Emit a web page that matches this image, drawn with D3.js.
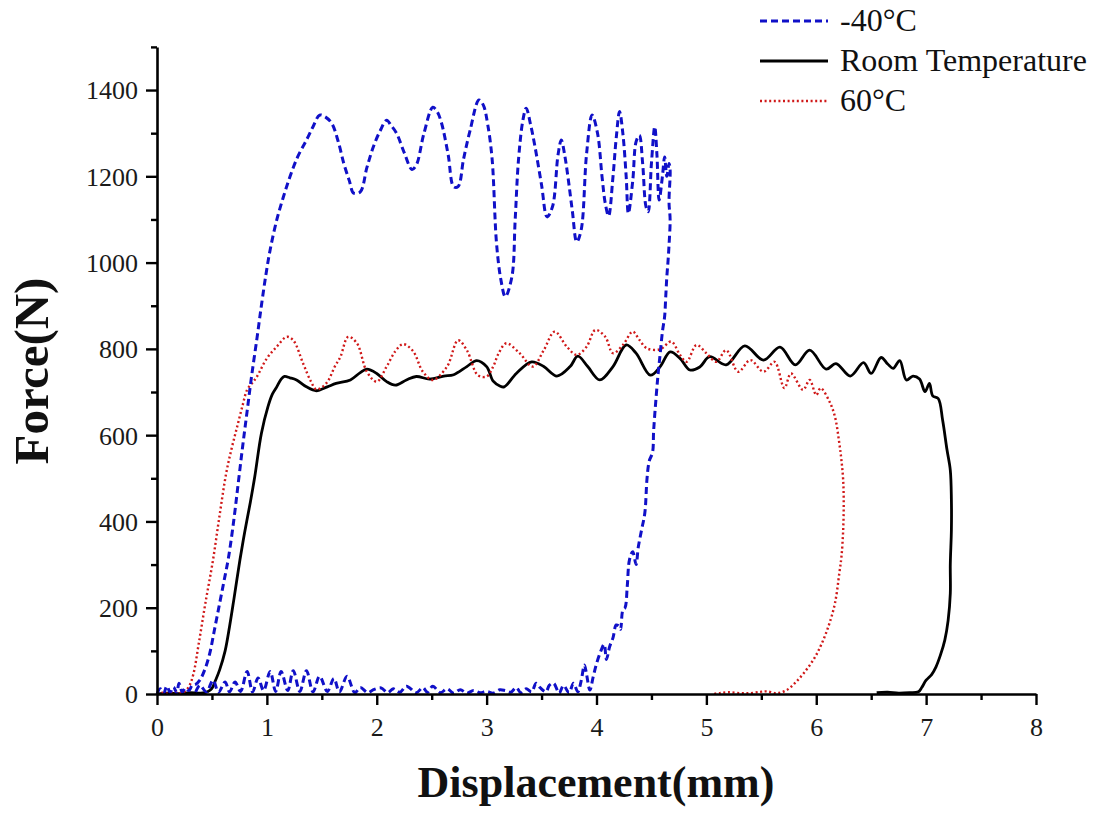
<!DOCTYPE html>
<html>
<head>
<meta charset="utf-8">
<script src="https://cdn.jsdelivr.net/npm/d3@7"></script>
<style>
  body { margin: 0; background: #fff; }
  svg { display: block; font-family: "Liberation Serif", "Times New Roman", serif; }
</style>
</head>
<body>
<svg id="chart" width="1098" height="813"></svg>
<script>
// Data: [displacement mm, force N]
const coldData = [
  [0.00,0],[0.03,12],[0.06,2],[0.09,18],[0.12,4],[0.15,16],[0.18,3],[0.20,25],[0.23,5],[0.26,14],[0.29,8],[0.32,20],[0.35,22],
  [0.39,32],[0.44,60],[0.48,94],[0.52,145],[0.57,210],[0.61,262],[0.65,315],[0.70,405],[0.74,490],[0.78,575],[0.82,655],
  [0.86,735],[0.91,825],[0.95,900],[0.99,970],[1.03,1030],[1.09,1099],[1.15,1152],[1.21,1199],[1.28,1245],[1.36,1284],
  [1.42,1315],[1.48,1342],[1.53,1338],[1.59,1323],[1.65,1280],[1.70,1230],[1.75,1190],[1.79,1161],[1.85,1164],[1.91,1220],
  [1.97,1269],[2.03,1305],[2.09,1330],[2.13,1318],[2.18,1300],[2.25,1255],[2.32,1216],[2.36,1226],[2.43,1300],[2.51,1360],
  [2.55,1350],[2.59,1323],[2.65,1250],[2.70,1176],[2.74,1176],[2.79,1240],[2.85,1307],[2.93,1377],[2.97,1365],[3.01,1320],
  [3.05,1240],[3.09,1045],[3.13,960],[3.17,921],[3.23,967],[3.26,1100],[3.29,1238],[3.33,1330],[3.36,1358],[3.40,1320],
  [3.44,1269],[3.50,1180],[3.55,1106],[3.60,1130],[3.65,1250],[3.68,1284],[3.71,1250],[3.74,1199],[3.78,1120],[3.82,1048],
  [3.86,1075],[3.91,1253],[3.96,1342],[4.01,1299],[4.05,1200],[4.08,1137],[4.11,1108],[4.15,1199],[4.18,1290],[4.21,1350],
  [4.24,1299],[4.27,1200],[4.29,1114],[4.33,1190],[4.36,1280],[4.39,1295],[4.42,1230],[4.45,1130],[4.47,1118],[4.50,1230],
  [4.53,1315],[4.55,1250],[4.57,1145],[4.60,1200],[4.62,1245],[4.64,1200],[4.66,1230],[4.67,1215],[4.66,1140],[4.67,1100],
  [4.66,1040],[4.65,1000],[4.64,967],[4.63,920],[4.62,875],
  [4.60,840],[4.58,790],[4.56,740],[4.54,680],[4.52,610],[4.51,560],[4.48,540],[4.46,500],[4.44,420],[4.41,380],[4.38,340],
  [4.36,300],[4.33,330],[4.30,311],[4.28,250],[4.26,200],[4.24,195],[4.22,150],[4.21,156],[4.18,160],[4.15,130],[4.12,110],
  [4.09,80],[4.07,115],[4.04,100],[4.00,70],[3.97,40],[3.94,9],[3.91,45],[3.89,67],[3.86,30],[3.83,5],
  [3.79,25],[3.75,3],[3.70,20],[3.66,2],[3.61,25],[3.57,20],[3.54,5],[3.49,14],[3.45,25],[3.41,5],[3.36,12],[3.31,3],
  [3.27,15],[3.22,4],[3.17,8],[3.12,10],[3.06,2],[3.00,6],[2.94,3],[2.88,8],[2.82,2],[2.76,10],[2.70,2],[2.64,12],[2.58,3],
  [2.51,18],[2.46,4],[2.42,15],[2.36,3],[2.27,18],[2.21,4],[2.15,12],[2.10,3],[2.04,14],[1.97,10],[1.92,3],[1.85,15],
  [1.80,3],[1.73,41],[1.66,5],[1.61,36],[1.55,6],[1.48,41],[1.42,5],[1.36,54],[1.30,6],[1.24,54],[1.19,8],[1.13,52],
  [1.08,6],[1.03,52],[0.97,8],[0.92,37],[0.87,5],[0.82,52],[0.76,6],[0.71,28],[0.66,5],[0.62,28],[0.56,4],[0.51,32],
  [0.45,5],[0.39,20],[0.35,3]
];

const roomData = [
  [0,0],[0.1,2],[0.2,1],[0.3,3],[0.4,2],[0.46,5],[0.50,13],[0.53,30],[0.57,56],[0.62,100],[0.66,156],[0.70,220],
  [0.755,311],[0.80,378],[0.85,445],[0.89,504],[0.95,604],[1.01,666],[1.05,695],[1.09,712],[1.13,730],[1.16,736],
  [1.21,733],[1.27,728],[1.36,712],[1.45,703],[1.55,712],[1.63,720],[1.76,728],[1.85,745],[1.91,753],[2.0,743],
  [2.09,724],[2.17,716],[2.27,728],[2.36,736],[2.48,730],[2.61,737],[2.70,740],[2.82,759],[2.91,773],[3.0,759],
  [3.06,725],[3.12,714],[3.16,712],[3.27,743],[3.41,770],[3.52,759],[3.64,737],[3.76,759],[3.83,783],[3.92,759],
  [4.03,728],[4.15,759],[4.27,809],[4.36,790],[4.49,739],[4.58,759],[4.67,793],[4.76,778],[4.85,751],[4.94,758],
  [5.03,782],[5.18,763],[5.35,807],[5.52,774],[5.67,804],[5.81,763],[5.94,797],[6.09,753],[6.18,766],[6.31,737],
  [6.43,768],[6.50,743],[6.59,780],[6.65,765],[6.70,755],[6.76,773],[6.82,728],[6.88,737],[6.94,730],[6.99,701],
  [7.03,720],[7.06,691],[7.11,685],[7.15,635],[7.19,566],[7.22,519],[7.23,450],[7.23,380],[7.22,300],[7.22,233],
  [7.20,170],[7.17,125],[7.13,90],[7.09,63],[7.05,45],[7.00,32],[6.96,15],[6.93,5],[6.85,3],[6.75,2],[6.65,4],[6.55,3]
];

const hotData = [
  [0,0],[0.05,3],[0.1,1],[0.15,5],[0.2,2],[0.25,6],[0.29,17],[0.33,45],[0.38,117],[0.44,210],[0.51,311],[0.57,415],
  [0.63,512],[0.68,570],[0.73,620],[0.78,670],[0.82,705],[0.87,722],[0.91,736],[1.0,778],[1.09,805],[1.18,828],
  [1.24,820],[1.33,766],[1.40,725],[1.45,706],[1.54,720],[1.62,760],[1.67,782],[1.74,828],[1.82,813],[1.91,747],
  [2.0,724],[2.09,759],[2.17,795],[2.24,811],[2.33,795],[2.42,747],[2.51,728],[2.64,759],[2.74,820],[2.82,797],
  [2.92,739],[3.0,736],[3.06,759],[3.11,790],[3.18,813],[3.30,790],[3.42,759],[3.52,797],[3.62,840],[3.73,805],
  [3.82,786],[3.91,805],[3.99,844],[4.08,828],[4.15,790],[4.24,809],[4.33,840],[4.39,821],[4.46,801],[4.58,799],
  [4.68,817],[4.76,786],[4.82,770],[4.91,809],[5.0,790],[5.09,770],[5.18,797],[5.29,747],[5.40,774],[5.52,747],
  [5.62,770],[5.71,709],[5.77,743],[5.88,705],[5.94,728],[6.00,693],[6.04,709],[6.12,678],[6.17,643],[6.21,581],
  [6.23,540],[6.245,496],[6.25,440],[6.245,380],[6.23,320],[6.21,280],[6.17,210],[6.11,156],[6.05,117],[5.99,86],
  [5.91,56],[5.82,29],[5.73,9],[5.64,2],[5.55,6],[5.49,5],[5.40,2],[5.31,2],[5.20,4],[5.12,2],[5.06,0]
];

const seriesNames = ["-40\u00B0C", "Room Temperature", "60\u00B0C"];
const xTicks = [0, 1, 2, 3, 4, 5, 6, 7, 8];
const xMinorTicks = [0.5, 1.5, 2.5, 3.5, 4.5, 5.5, 6.5, 7.5];
const yTicks = [0, 200, 400, 600, 800, 1000, 1200, 1400];
const yMinorTicks = [100, 300, 500, 700, 900, 1100, 1300, 1500];

const svg = d3.select("#chart");

const x = d3.scaleLinear().domain([0, 8]).range([157, 1036]);
const y = d3.scaleLinear().domain([0, 1500]).range([694, 46.9]);

// Series styles
const styles = [
  { data: coldData, color: "#1010c8", width: 3, dash: "7,4" },
  { data: roomData, color: "#000000", width: 2.8, dash: null },
  { data: hotData, color: "#d01818", width: 2.4, dash: "2,2.6" }
];

const line = d3.line()
  .x(d => x(d[0]))
  .y(d => y(d[1]))
  .curve(d3.curveCatmullRom.alpha(0.5));

// Draw order: black, red, then blue on top
[1, 2, 0].forEach(i => {
  const s = styles[i];
  svg.append("path")
    .datum(s.data)
    .attr("fill", "none")
    .attr("stroke", s.color)
    .attr("stroke-width", s.width)
    .attr("stroke-dasharray", s.dash)
    .attr("stroke-linejoin", "round")
    .attr("d", line);
});

// Axes
function styleAxis(g) {
  g.select(".domain").attr("stroke", "#000").attr("stroke-width", 2.6);
  g.selectAll(".tick line").attr("stroke", "#000").attr("stroke-width", 2.4);
  g.selectAll(".tick text").attr("fill", "#1a1a1a").attr("font-size", 26)
    .attr("font-family", "Liberation Serif, Times New Roman, serif");
}

const xAxis = svg.append("g")
  .attr("transform", "translate(0,694)")
  .call(d3.axisBottom(x).tickValues(xTicks).tickFormat(d3.format("d")).tickSize(11).tickSizeOuter(0));
styleAxis(xAxis);
xAxis.selectAll(".tick text").attr("y", 42).attr("dy", 0);

svg.append("g")
  .attr("transform", "translate(0,694)")
  .call(d3.axisBottom(x).tickValues(xMinorTicks).tickFormat("").tickSize(6).tickSizeOuter(0))
  .call(g => { g.select(".domain").remove(); g.selectAll(".tick line").attr("stroke-width", 2.4); });

const yAxis = svg.append("g")
  .attr("transform", "translate(157,0)")
  .call(d3.axisLeft(y).tickValues(yTicks).tickFormat(d3.format("d")).tickSize(11).tickSizeOuter(0));
styleAxis(yAxis);
yAxis.selectAll(".tick text").attr("x", -19).attr("dy", "0.34em");

svg.append("g")
  .attr("transform", "translate(157,0)")
  .call(d3.axisLeft(y).tickValues(yMinorTicks).tickFormat("").tickSize(6).tickSizeOuter(0))
  .call(g => { g.select(".domain").remove(); g.selectAll(".tick line").attr("stroke-width", 2.4); });

// Axis titles
svg.append("text")
  .attr("x", 596).attr("y", 797)
  .attr("text-anchor", "middle")
  .attr("font-size", 44).attr("font-weight", "bold")
  .attr("fill", "#111")
  .text("Displacement(mm)");

svg.append("text")
  .attr("transform", "translate(48,371) rotate(-90)")
  .attr("text-anchor", "middle")
  .attr("font-size", 49).attr("font-weight", "bold")
  .attr("fill", "#111")
  .text("Force(N)");

// Legend
const legend = svg.append("g").attr("transform", "translate(760,21)");
[0, 1, 2].forEach(i => {
  const s = styles[i];
  const row = legend.append("g").attr("transform", `translate(0,${i * 40})`);
  row.append("line")
    .attr("x1", 0).attr("x2", 68).attr("y1", 0).attr("y2", 0)
    .attr("stroke", s.color).attr("stroke-width", s.width)
    .attr("stroke-dasharray", s.dash);
  row.append("text")
    .attr("x", 80).attr("y", 10)
    .attr("font-size", 32)
    .attr("fill", "#111")
    .text(seriesNames[i]);
});
</script>
</body>
</html>
